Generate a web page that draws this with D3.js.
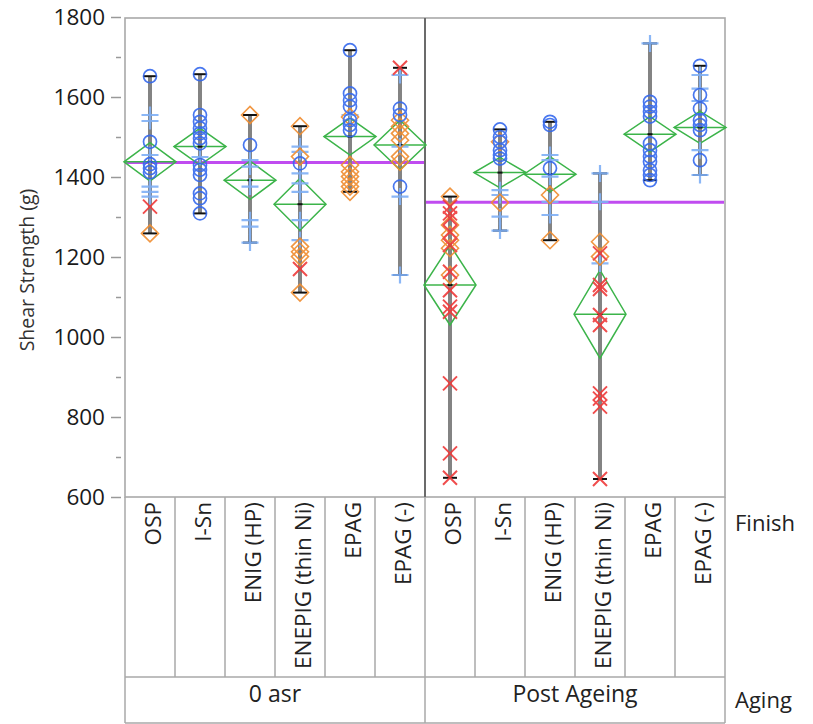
<!DOCTYPE html>
<html><head><meta charset="utf-8">
<script src="https://cdn.jsdelivr.net/npm/d3@7"></script>
<style>
html,body{margin:0;padding:0;background:#fff;}
svg{display:block;font-family:"Open Sans","Noto Sans",sans-serif;}
</style></head>
<body>
<svg id="c" width="813" height="724"></svg>
<script>
// ---- data ----
const finishes = ["OSP","I-Sn","ENIG (HP)","ENEPIG (thin Ni)","EPAG","EPAG (-)"];
const agings = ["0 asr","Post Ageing"];
const yMajorTicks = [600,800,1000,1200,1400,1600,1800];
const yMinorTicks = [700,900,1100,1300,1500,1700];
// per group (12 groups: 6 finishes x 2 agings), by marker type
const circleVals = [
  [1652,1488,1432,1422,1412],
  [1657,1555,1538,1522,1509,1497,1484,1430,1418,1405,1359,1347,1309],
  [1480],
  [1434],
  [1717,1609,1592,1576,1542,1530,1517],
  [1571,1555,1376],
  [],
  [1519,1500,1488,1467,1455,1446],
  [1538,1530,1422],
  [],
  [1588,1576,1563,1551,1484,1467,1451,1438,1417,1405,1392],
  [1678,1605,1571,1542,1530,1517,1442]
];
const plusVals = [
  [1555,1540,1455,1376,1363,1351],
  [1450],
  [1442,1426,1376,1292,1276,1236],
  [1476,1463,1409,1384,1363,1292,1242],
  [1555],
  [1655,1476,1351,1155],
  [],
  [1367,1355,1301,1266],
  [1455,1442,1401,1338,1305],
  [1409,1338,1184],
  [1734],
  [1655,1621,1590,1467,1405]
];
const diamondVals = [
  [1259],
  [],
  [1555],
  [1527,1451,1226,1213,1201,1111],
  [1550,1430,1413,1401,1388,1376,1363],
  [1542,1526,1509,1492,1451,1438],
  [1351,1280,1255,1242,1222,1155],
  [1488,1336],
  [1355,1242],
  [1238,1201],
  [],
  []
];
const crossVals = [
  [1326],
  [],
  [],
  [1170],
  [],
  [1673],
  [1326,1309,1297,1263,1230,1163,1117,1076,1063,884,709,648],
  [],
  [],
  [1209,1130,1120,1055,1030,859,846,826,645],
  [],
  []
];
const groupMeans = [1438,1476,1392,1332,1501,1480,1130,1411,1407,1057,1507,1524];
const groupCI    = [48,46,48,65,46,62,100,38,44,110,44,40];
const grandMeans = [1436,1337];

// ---- layout ----
const svg = d3.select("#c");
const L = 125, R = 725, T = 17, B = 497;
const labBottom = 677, aggBottom = 723;
const y = d3.scaleLinear().domain([600,1800]).range([B,T]);
const groups = d3.range(agings.length * finishes.length);
const x = d3.scaleBand().domain(groups).range([L,R]).padding(0);
const bw = x.bandwidth();
const cx = i => x(i) + bw/2;
const xAging = d3.scaleBand().domain(agings).range([L,R]);

const frameCol = "#a9a9a9";
const txtCol = "#222";

// frame
svg.append("rect").attr("x",L).attr("y",T+1).attr("width",R-L).attr("height",B-T-1)
  .attr("fill","none").attr("stroke",frameCol).attr("stroke-width",1.6);

// y axis (ticks with gap to frame, as in reference)
const gAx = svg.append("g").attr("transform",`translate(${L-4},0)`)
  .call(d3.axisLeft(y).tickValues(yMajorTicks).tickSize(10).tickPadding(6).tickFormat(d3.format("d")));
gAx.select(".domain").remove();
gAx.selectAll(".tick line").attr("stroke","#999").attr("stroke-width",1.5);
gAx.selectAll(".tick text").attr("fill","#1a1a1a").style("font-size","22.5px").style("font-family","'Open Sans',sans-serif");
const gMin = svg.append("g").attr("transform",`translate(${L-4},0)`)
  .call(d3.axisLeft(y).tickValues(yMinorTicks).tickSize(5).tickFormat(""));
gMin.select(".domain").remove();
gMin.selectAll(".tick line").attr("stroke","#999").attr("stroke-width",1.5);

svg.append("text").attr("transform",`translate(34,${270}) rotate(-90)`)
  .attr("text-anchor","middle").attr("fill","#333").style("font-size","19.5px")
  .text("Shear Strength (g)");

// panel divider
svg.append("line").attr("x1",xAging("Post Ageing")).attr("x2",xAging("Post Ageing"))
  .attr("y1",T+1).attr("y2",B).attr("stroke","#6b6b6b").attr("stroke-width",2);

// grand mean lines
agings.forEach((a,k)=>{
  svg.append("line").attr("x1",xAging(a)+(k?1:0)).attr("x2",xAging(a)+xAging.bandwidth()-1)
    .attr("y1",y(grandMeans[k])).attr("y2",y(grandMeans[k]))
    .attr("stroke","#c04cf0").attr("stroke-width",3);
});

// range bars
groups.forEach(i=>{
  const all = [].concat(circleVals[i],plusVals[i],diamondVals[i],crossVals[i]);
  const [mn,mx] = d3.extent(all);
  const g = svg.append("g");
  g.append("line").attr("x1",cx(i)).attr("x2",cx(i)).attr("y1",y(mn)).attr("y2",y(mx))
    .attr("stroke","#838383").attr("stroke-width",4);
  [mn,mx].forEach(v=>g.append("line").attr("x1",cx(i)-7).attr("x2",cx(i)+7)
    .attr("y1",y(v)).attr("y2",y(v)).attr("stroke","#111").attr("stroke-width",2));
});

// means diamonds
groups.forEach(i=>{
  const m = groupMeans[i], c = groupCI[i], hw = bw/2 + 1;
  const pts = [[cx(i)-hw,y(m)],[cx(i),y(m-c)],[cx(i)+hw,y(m)],[cx(i),y(m+c)]];
  svg.append("polygon").attr("points",pts.map(p=>p.join(",")).join(" "))
    .attr("fill","none").attr("stroke","#3cb44a").attr("stroke-width",1.5);
  svg.append("line").attr("x1",cx(i)-hw).attr("x2",cx(i)+hw).attr("y1",y(m)).attr("y2",y(m))
    .attr("stroke","#3cb44a").attr("stroke-width",1.5);
  svg.append("line").attr("x1",cx(i)-2.5).attr("x2",cx(i)+2.5).attr("y1",y(m)).attr("y2",y(m))
    .attr("stroke","#111").attr("stroke-width",2);
});

// markers
const mk = svg.append("g").attr("opacity",0.9);
groups.forEach(i=>{
  const X = cx(i);
  plusVals[i].forEach(v=>{
    mk.append("path").attr("d",`M${X-8.5},${y(v)}H${X+8.5}M${X},${y(v)-8.5}V${y(v)+8.5}`)
      .attr("stroke","#7fb0f6").attr("stroke-width",2.2).attr("fill","none");
  });
  diamondVals[i].forEach(v=>{
    mk.append("path").attr("d",`M${X-8.5},${y(v)}L${X},${y(v)-8.5}L${X+8.5},${y(v)}L${X},${y(v)+8.5}Z`)
      .attr("stroke","#f08c2e").attr("stroke-width",1.6).attr("fill","none");
  });
  crossVals[i].forEach(v=>{
    mk.append("path").attr("d",`M${X-7},${y(v)-7}L${X+7},${y(v)+7}M${X-7},${y(v)+7}L${X+7},${y(v)-7}`)
      .attr("stroke","#ef3a3a").attr("stroke-width",2).attr("fill","none");
  });
  circleVals[i].forEach(v=>{
    mk.append("circle").attr("cx",X).attr("cy",y(v)).attr("r",6.5)
      .attr("stroke","#3569ee").attr("stroke-width",1.7).attr("fill","none");
  });
});

// category label grid
const grid = svg.append("g").attr("stroke",frameCol).attr("stroke-width",1.5);
groups.concat([groups.length]).forEach(i=>{
  const xx = i < groups.length ? x(i) : R;
  const full = (i % finishes.length === 0) || i === groups.length;
  grid.append("line").attr("x1",xx).attr("x2",xx).attr("y1",B).attr("y2",full?aggBottom:labBottom);
});
grid.append("line").attr("x1",L).attr("x2",R).attr("y1",labBottom).attr("y2",labBottom);
grid.append("line").attr("x1",L).attr("x2",R).attr("y1",aggBottom).attr("y2",aggBottom);

groups.forEach(i=>{
  svg.append("text").attr("transform",`translate(${cx(i)+3},502) rotate(-90)`)
    .attr("text-anchor","end").attr("dy","0.35em").attr("fill",txtCol)
    .style("font-size","22.5px").text(finishes[i % finishes.length]);
});
agings.forEach(a=>{
  svg.append("text").attr("x",xAging(a)+xAging.bandwidth()/2).attr("y",702)
    .attr("text-anchor","middle").attr("fill",txtCol).style("font-size","23px").text(a);
});
svg.append("text").attr("x",735).attr("y",531).attr("fill",txtCol).style("font-size","22px").text("Finish");
svg.append("text").attr("x",735).attr("y",708).attr("fill",txtCol).style("font-size","22px").text("Aging");
</script>
</body></html>
